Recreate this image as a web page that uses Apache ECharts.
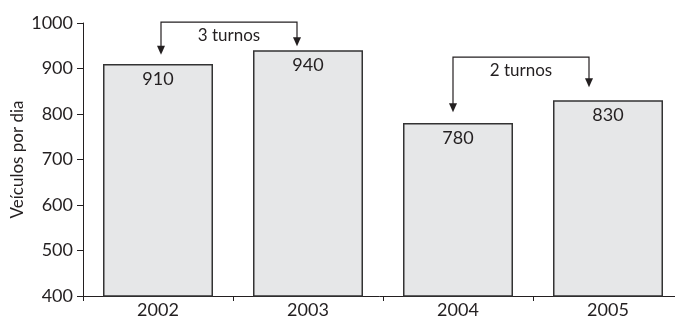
<!DOCTYPE html>
<html>
<head>
<meta charset="utf-8">
<script src="https://cdn.jsdelivr.net/npm/echarts@6/dist/echarts.min.js"></script>
<style>
  html, body { margin: 0; padding: 0; background: #fff; }
  #chart { width: 675px; height: 320px; }
</style>
</head>
<body>
<div id="chart"></div>
<script>
// data
const years = ['2002', '2003', '2004', '2005'];
const vehicles = [910, 940, 780, 830];
const yTicks = [400, 1000, 100]; // min, max, step

// shift brackets: from year, to year, label, value of bar line, arrow tip values
const shiftFrom = ['2002', '2004'];
const shiftTo = ['2003', '2005'];
const shiftLabels = ['3 turnos', '2 turnos'];
const shiftLineAt = [1002, 925];
const shiftTipFrom = [930, 804];
const shiftTipTo = [949, 859];

// arrow x offsets from category centre, pixels (layout only)
const arrowDx = [[3, -11], [-5, -19]];

const ink = '#231f20';
const font = 'Lato, "DejaVu Sans", sans-serif';

const chart = echarts.init(document.getElementById('chart'));

const option = {
  animation: false,
  backgroundColor: '#fff',
  grid: { left: 83, right: -8, top: 23, bottom: 24, containLabel: false, outerBoundsMode: 'none' },
  xAxis: {
    type: 'category',
    data: years,
    axisLine: { lineStyle: { color: ink, width: 1 } },
    axisTick: { show: true, length: 5, lineStyle: { color: ink } },
    axisLabel: { color: ink, fontSize: 18, fontFamily: font, margin: 5 },
  },
  yAxis: {
    type: 'value',
    min: yTicks[0],
    max: yTicks[1],
    interval: yTicks[2],
    name: 'Veículos por dia',
    nameLocation: 'middle',
    nameGap: 57,
    nameMoveOverlap: false,
    nameTextStyle: { color: ink, fontSize: 17, fontFamily: font },
    axisLine: { show: true, lineStyle: { color: ink, width: 1 } },
    axisTick: { show: true, length: 6, lineStyle: { color: ink } },
    axisLabel: { color: ink, fontSize: 18, fontFamily: font, margin: 10, formatter: (v) => String(v) },
    splitLine: { show: false },
  },
  series: [{
    type: 'bar',
    data: vehicles,
    barWidth: 110,
    itemStyle: { color: '#e6e7e8', borderColor: '#333', borderWidth: 1.5 },
    label: {
      show: true,
      position: 'insideTop',
      distance: 6,
      color: ink,
      fontSize: 18,
      fontFamily: font,
    },
  }],
};
chart.setOption(option);

const drawBrackets = () => {
  const els = [];
  for (let i = 0; i < shiftLabels.length; i++) {
    const x1 = chart.convertToPixel({ xAxisIndex: 0 }, shiftFrom[i]) + arrowDx[i][0];
    const x2 = chart.convertToPixel({ xAxisIndex: 0 }, shiftTo[i]) + arrowDx[i][1];
    const yl = chart.convertToPixel({ yAxisIndex: 0 }, shiftLineAt[i]);
    const t1 = chart.convertToPixel({ yAxisIndex: 0 }, shiftTipFrom[i]);
    const t2 = chart.convertToPixel({ yAxisIndex: 0 }, shiftTipTo[i]);
    const ah = 9, aw = 4;
    els.push({
      type: 'polyline',
      shape: { points: [[x1, t1 - ah + 1], [x1, yl], [x2, yl], [x2, t2 - ah + 1]] },
      style: { stroke: ink, lineWidth: 1.2, fill: null },
    });
    [[x1, t1], [x2, t2]].forEach(([x, t]) => {
      els.push({
        type: 'polygon',
        shape: { points: [[x - aw, t - ah], [x + aw, t - ah], [x, t]] },
        style: { fill: ink },
      });
    });
    els.push({
      type: 'text',
      x: (x1 + x2) / 2,
      y: yl + 13,
      style: {
        text: shiftLabels[i],
        fill: ink,
        font: '17px ' + font,
        align: 'center',
        verticalAlign: 'middle',
      },
    });
  }
  chart.setOption({ graphic: { elements: els } });
};
drawBrackets();
</script>
</body>
</html>
